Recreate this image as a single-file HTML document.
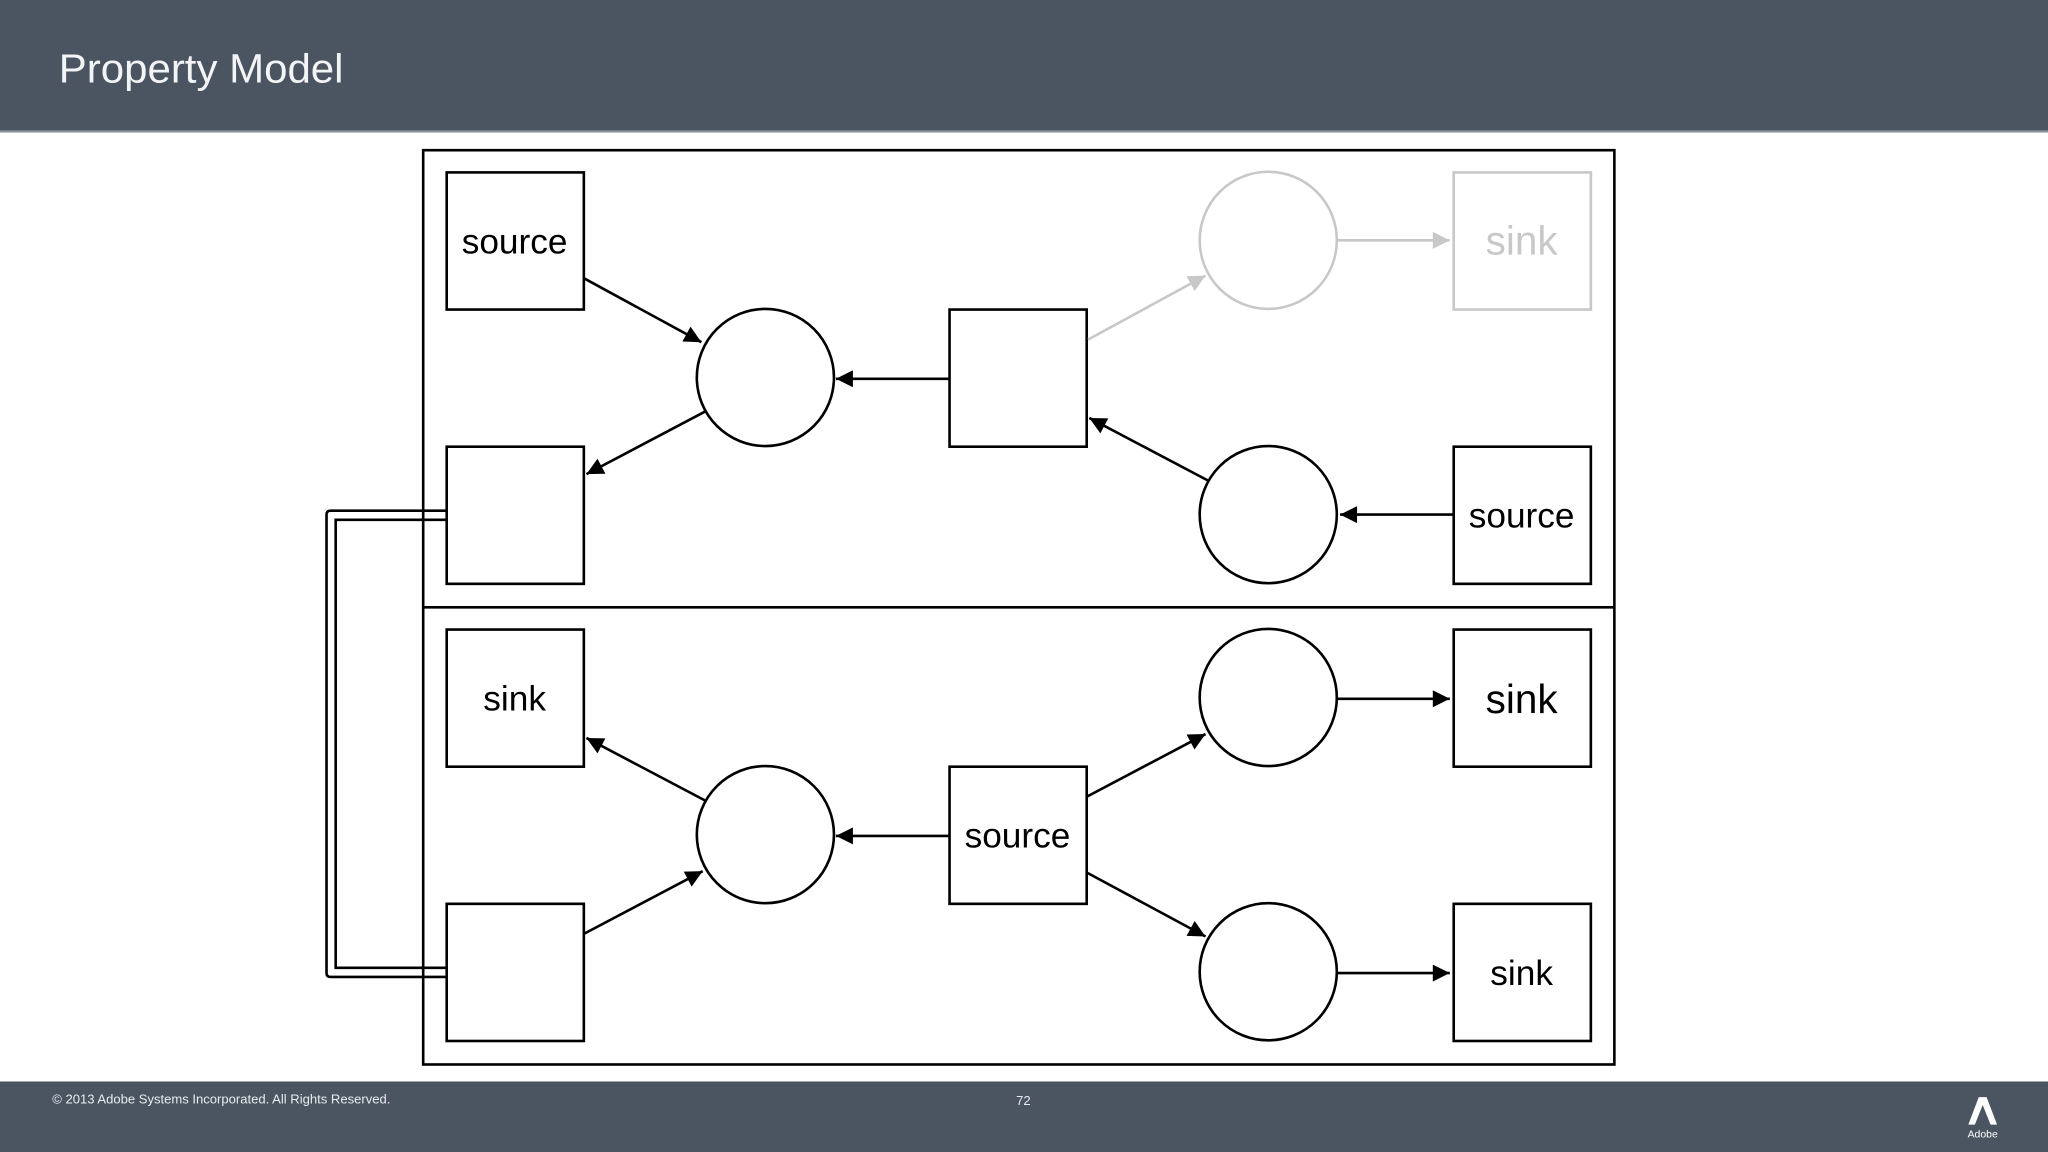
<!DOCTYPE html>
<html><head><meta charset="utf-8"><style>
html,body{margin:0;padding:0;background:#fff}
svg{display:block}
</style></head><body>
<svg width="2048" height="1152" viewBox="0 0 1568 882" xmlns="http://www.w3.org/2000/svg" font-family="Liberation Sans, sans-serif">
<defs>
<marker id="a" viewBox="0 0 10 10" refX="10" refY="5" markerWidth="17" markerHeight="13" markerUnits="userSpaceOnUse" orient="auto"><path d="M0,0L10,5L0,10z" fill="#000"/></marker>
<marker id="g" viewBox="0 0 10 10" refX="10" refY="5" markerWidth="17" markerHeight="13" markerUnits="userSpaceOnUse" orient="auto"><path d="M0,0L10,5L0,10z" fill="#c8c8c8"/></marker>
</defs>
<rect x="0" y="0" width="1568" height="100" fill="#4a5561"/>
<rect x="0" y="100" width="1568" height="1.5" fill="#8a949e"/>
<text x="45" y="63" font-size="31" fill="#f2f4f5" textLength="218" lengthAdjust="spacingAndGlyphs">Property Model</text>
<rect x="0" y="828" width="1568" height="54" fill="#4a5561"/>
<text x="40" y="845" font-size="10" fill="#e8ecef">© 2013 Adobe Systems Incorporated.  All Rights Reserved.</text>
<text x="778" y="846" font-size="10" fill="#e8ecef">72</text>
<path d="M1507,861L1515,840L1521,840L1529,861L1524,861L1518,846L1512,861z" fill="#fff"/>
<text x="1518" y="871" font-size="8" fill="#fff" text-anchor="middle">Adobe</text>

<g fill="none" stroke="#000" stroke-width="2">
<rect x="324" y="115" width="912" height="700"/>
<line x1="324" y1="465" x2="1236" y2="465"/>
<path d="M342,391H253Q250,391 250,394V745Q250,748 253,748H342"/>
<path d="M342,398H257V741H342"/>
<rect x="342" y="132" width="105" height="105" fill="#fff"/>
<rect x="342" y="342" width="105" height="105" fill="#fff"/>
<rect x="342" y="482" width="105" height="105" fill="#fff"/>
<rect x="342" y="692" width="105" height="105" fill="#fff"/>
<rect x="727" y="237" width="105" height="105"/>
<rect x="727" y="587" width="105" height="105"/>
<rect x="1113" y="342" width="105" height="105"/>
<rect x="1113" y="482" width="105" height="105"/>
<rect x="1113" y="692" width="105" height="105"/>
<circle cx="586" cy="289" r="52.5"/>
<circle cx="586" cy="639" r="52.5"/>
<circle cx="971" cy="394" r="52.5"/>
<circle cx="971" cy="534" r="52.5"/>
<circle cx="971" cy="744" r="52.5"/>
<line x1="447" y1="213" x2="537" y2="262" marker-end="url(#a)"/>
<line x1="540" y1="315" x2="449" y2="363" marker-end="url(#a)"/>
<line x1="727" y1="290" x2="640" y2="290" marker-end="url(#a)"/>
<line x1="925" y1="368" x2="834" y2="320" marker-end="url(#a)"/>
<line x1="1113" y1="394" x2="1026" y2="394" marker-end="url(#a)"/>
<line x1="540" y1="613" x2="449" y2="565" marker-end="url(#a)"/>
<line x1="447" y1="715" x2="538" y2="667" marker-end="url(#a)"/>
<line x1="727" y1="640" x2="640" y2="640" marker-end="url(#a)"/>
<line x1="832" y1="610" x2="923" y2="562" marker-end="url(#a)"/>
<line x1="832" y1="668" x2="923" y2="717" marker-end="url(#a)"/>
<line x1="1024" y1="535" x2="1110" y2="535" marker-end="url(#a)"/>
<line x1="1024" y1="745" x2="1110" y2="745" marker-end="url(#a)"/>
</g>
<g fill="none" stroke="#c8c8c8" stroke-width="2">
<circle cx="971" cy="184" r="52.5"/>
<rect x="1113" y="132" width="105" height="105"/>
<line x1="833" y1="260" x2="923" y2="211" marker-end="url(#g)"/>
<line x1="1024" y1="184" x2="1110" y2="184" marker-end="url(#g)"/>
</g>
<g font-size="27" text-anchor="middle" fill="#000">
<text x="394" y="194">source</text>
<text x="394" y="544">sink</text>
<text x="779" y="649">source</text>
<text x="1165" y="404">source</text>
<text x="1165" y="546" font-size="31">sink</text>
<text x="1165" y="754">sink</text>
<text x="1165" y="195" font-size="31" fill="#c8c8c8">sink</text>
</g>
</svg>
</body></html>
